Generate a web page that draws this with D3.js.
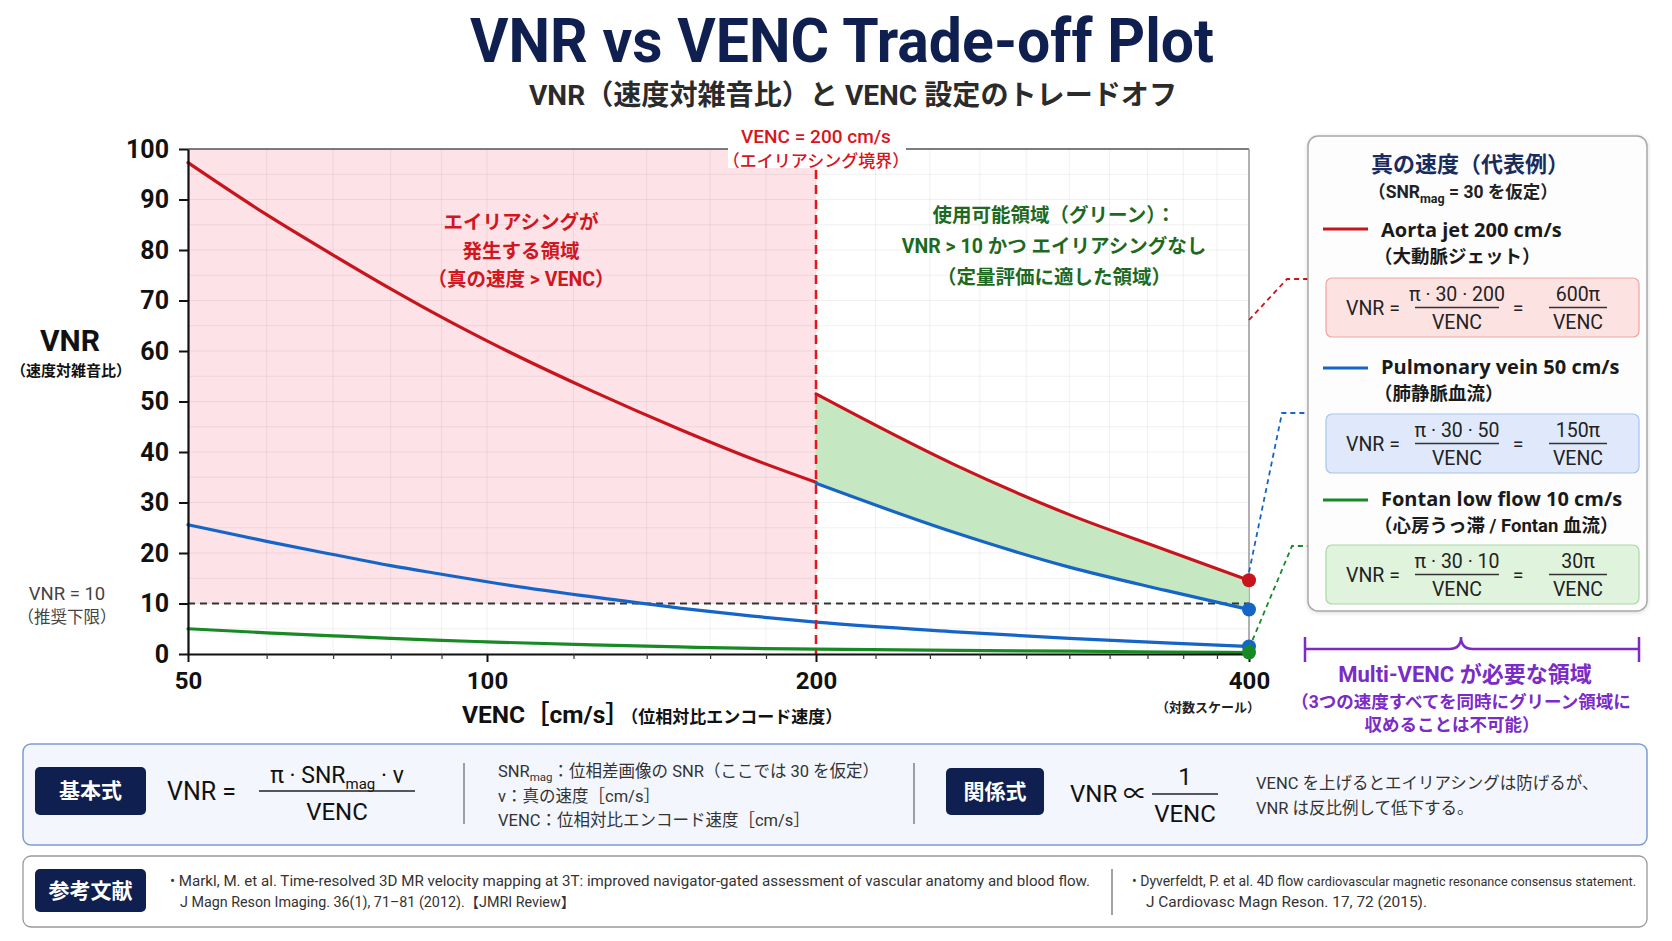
<!DOCTYPE html>
<html>
<head>
<meta charset="utf-8">
<script src="https://cdn.jsdelivr.net/npm/d3@7"></script>
<style>
body { margin: 0; background: #fff; }
svg text { font-family: Roboto, "Noto Sans CJK JP", sans-serif; }
</style>
</head>
<body>
<svg id="chart" width="1672" height="941"></svg>
<script>
// values
var vencAliased = [50, 60, 70, 80, 90, 100, 125, 150, 175, 200];
var vencSafe = [200, 250, 300, 350, 400];
var vencAll = [50, 60, 70, 80, 90, 100, 125, 150, 175, 200, 250, 300, 350, 400];
var aortaAliased = [97.3, 87, 79, 72.3, 66.7, 62, 52, 44.5, 38.6, 34];
var aortaSafe = [51.5, 37.4, 27.6, 20.6, 14.6];
var pulmonaryAll = [25.6, 22.3, 19.7, 17.5, 15.8, 14.3, 11.3, 9.1, 7.5, 6.3, 4.4, 3.1, 2.2, 1.5];
var pulmonarySafe = [33.8, 24, 17.2, 12.6, 8.8];
var fontanAll = [5.0, 4.2, 3.6, 3.1, 2.7, 2.4, 1.8, 1.4, 1.1, 0.95, 0.7, 0.55, 0.4, 0.3];
var xTicks = [50, 100, 200, 400];
var xMinor = [60, 70, 80, 90, 120, 140, 160, 180, 220, 240, 260, 280, 300, 320, 340, 360, 380];
var yTicks = [0, 10, 20, 30, 40, 50, 60, 70, 80, 90, 100];
var yGrid = [5, 15, 25, 35, 45, 55, 65, 75, 85, 95];
var vencLimit = 200;
var vnrLimit = 10;

var RED = "#c8141c", BLUE = "#1565c8", GREEN = "#178a24", NAVY = "#0f1f4f", PURPLE = "#7a2bc8";

var svg = d3.select("#chart");
var x = d3.scaleLog().domain([50, 100, 200, 400]).range([188, 487, 816, 1249]);
var y = d3.scaleLinear().domain([0, 100]).range([654, 149]);
var L = x(50), R = x(400), T = y(100), B = y(0);

function txt(g, px, py, str, size, weight, color, anchor) {
	return g.append("text")
		.attr("x", px).attr("y", py)
		.attr("font-size", size)
		.attr("font-weight", weight || 400)
		.attr("fill", color || "#222")
		.attr("text-anchor", anchor || "start")
		.text(str);
}

function pairs(xs, ys) {
	return xs.map(function(d, i) { return [d, ys[i]]; });
}

// title
txt(svg, 842, 62, "VNR vs VENC Trade-off Plot", 62, 700, NAVY, "middle").attr("textLength", 744).attr("lengthAdjust", "spacingAndGlyphs");
txt(svg, 853, 105, "VNR（速度対雑音比）と VENC 設定のトレードオフ", 28, 700, "#2b2b2b", "middle").attr("textLength", 648).attr("lengthAdjust", "spacingAndGlyphs");

var plot = svg.append("g");

// aliasing zone
plot.append("rect")
	.attr("x", L).attr("y", T)
	.attr("width", x(vencLimit) - L).attr("height", y(vnrLimit) - T)
	.attr("fill", "#fde2e7");

// grid
plot.append("g").selectAll("line").data(yGrid.concat(yTicks))
	.enter().append("line")
	.attr("x1", L).attr("x2", R)
	.attr("y1", function(d) { return y(d); }).attr("y2", function(d) { return y(d); })
	.attr("stroke", "rgba(0,0,0,0.06)").attr("stroke-width", 1);
plot.append("g").selectAll("line").data(xMinor.concat(xTicks))
	.enter().append("line")
	.attr("x1", function(d) { return x(d); }).attr("x2", function(d) { return x(d); })
	.attr("y1", T).attr("y2", B)
	.attr("stroke", "rgba(0,0,0,0.06)").attr("stroke-width", 1);

// frame top / right
plot.append("line").attr("x1", L).attr("x2", R).attr("y1", T).attr("y2", T).attr("stroke", "#555").attr("stroke-width", 1.5);
plot.append("line").attr("x1", R).attr("x2", R).attr("y1", T).attr("y2", B).attr("stroke", "#9a9a9a").attr("stroke-width", 1.5);

// usable zone
var area = d3.area()
	.x(function(d) { return x(d[0]); })
	.y0(function(d) { return y(d[1]); })
	.y1(function(d) { return y(d[2]); })
	.curve(d3.curveMonotoneX);
plot.append("path")
	.datum(vencSafe.map(function(d, i) { return [d, pulmonarySafe[i], aortaSafe[i]]; }))
	.attr("d", area)
	.attr("fill", "#bfe6bb").attr("opacity", 0.9);

// VNR = 10 line
plot.append("line")
	.attr("x1", L).attr("x2", R)
	.attr("y1", y(vnrLimit)).attr("y2", y(vnrLimit))
	.attr("stroke", "#333").attr("stroke-width", 2).attr("stroke-dasharray", "7,5");

// curves
var line = d3.line()
	.x(function(d) { return x(d[0]); })
	.y(function(d) { return y(d[1]); })
	.curve(d3.curveMonotoneX);
var curves = [
	[pairs(vencAliased, aortaAliased), RED],
	[pairs(vencSafe, aortaSafe), RED],
	[pairs(vencAll, pulmonaryAll), BLUE],
	[pairs(vencSafe, pulmonarySafe), BLUE],
	[pairs(vencAll, fontanAll), GREEN]
];
curves.forEach(function(c) {
	plot.append("path").datum(c[0])
		.attr("d", line)
		.attr("fill", "none").attr("stroke", c[1]).attr("stroke-width", 3.2)
		.attr("stroke-linecap", "round");
});

// VENC limit line and label
plot.append("line")
	.attr("x1", x(vencLimit)).attr("x2", x(vencLimit))
	.attr("y1", 170).attr("y2", B)
	.attr("stroke", "#e8141c").attr("stroke-width", 2.5).attr("stroke-dasharray", "9,6");
plot.append("rect").attr("x", 728).attr("y", 118).attr("width", 178).attr("height", 50).attr("fill", "#fff");
txt(plot, x(vencLimit), 143, "VENC = " + vencLimit + " cm/s", 19, 500, "#d8141c", "middle");
txt(plot, x(vencLimit), 167, "（エイリアシング境界）", 17, 500, "#d8141c", "middle");

// axes
var yAxis = plot.append("g").attr("transform", "translate(" + L + ",0)")
	.call(d3.axisLeft(y).tickValues(yTicks).tickSize(9).tickSizeOuter(0).tickPadding(10));
yAxis.select(".domain").attr("stroke", "#111").attr("stroke-width", 2.2);
yAxis.selectAll(".tick line").attr("stroke", "#111").attr("stroke-width", 2);
yAxis.selectAll(".tick text").attr("font-size", 25).attr("font-weight", 700).attr("fill", "#111")
	.style("font-family", "Roboto, sans-serif");

var xAxis = plot.append("g").attr("transform", "translate(0," + B + ")")
	.call(d3.axisBottom(x).tickValues(xTicks).tickFormat(d3.format("d")).tickSize(8).tickSizeOuter(0).tickPadding(10));
xAxis.select(".domain").attr("stroke", "#111").attr("stroke-width", 2.2);
xAxis.selectAll(".tick line").attr("stroke", "#111").attr("stroke-width", 2);
xAxis.selectAll(".tick text").attr("font-size", 24).attr("font-weight", 700).attr("fill", "#111")
	.style("font-family", "Roboto, sans-serif");
var xMinorAxis = plot.append("g").attr("transform", "translate(0," + B + ")")
	.call(d3.axisBottom(x).tickValues(xMinor).tickFormat("").tickSize(5).tickSizeOuter(0));
xMinorAxis.select(".domain").remove();
xMinorAxis.selectAll(".tick line").attr("stroke", "#333").attr("stroke-width", 1.2);

// end dots
var dots = [
	[400, aortaSafe[aortaSafe.length - 1], RED],
	[400, pulmonarySafe[pulmonarySafe.length - 1], BLUE],
	[400, pulmonaryAll[pulmonaryAll.length - 1], BLUE],
	[400, fontanAll[fontanAll.length - 1], GREEN]
];
plot.selectAll("circle.end").data(dots).enter().append("circle")
	.attr("cx", function(d) { return x(d[0]); })
	.attr("cy", function(d) { return y(d[1]); })
	.attr("r", 7)
	.attr("fill", function(d) { return d[2]; });

// axis titles
txt(svg, 70, 351, "VNR", 30, 700, "#111", "middle");
txt(svg, 71, 376, "（速度対雑音比）", 15, 700, "#111", "middle");
txt(svg, 67, 600, "VNR = 10", 18.5, 400, "#444", "middle");
txt(svg, 67, 623, "（推奨下限）", 16.5, 400, "#444", "middle");
var xt = txt(svg, 462, 723, "VENC［cm/s］", 24.5, 700, "#111");
xt.append("tspan").attr("font-size", 17).text("（位相対比エンコード速度）");
txt(svg, 1208, 712, "（対数スケール）", 13, 700, "#222", "middle");

// zone annotations
var redLines = ["エイリアシングが", "発生する領域", "（真の速度 > VENC）"];
redLines.forEach(function(s, i) {
	txt(svg, 521, 229 + i * 28.5, s, 19.5, 700, "#d0161e", "middle");
});
var greenLines = ["使用可能領域（グリーン）：", "VNR > 10 かつ エイリアシングなし", "（定量評価に適した領域）"];
greenLines.forEach(function(s, i) {
	txt(svg, 1054, 222 + i * 31, s, 19.5, 700, "#1d6a1f", "middle");
});

// connectors to legend
var conn = [
	[[R, 320], [1287, 279], [1309, 279], RED],
	[[R, y(aortaSafe[aortaSafe.length - 1]) - 8], [1282, 413], [1309, 413], BLUE],
	[[R, y(fontanAll[fontanAll.length - 1]) - 4], [1292, 546], [1309, 546], GREEN]
];
conn.forEach(function(c) {
	svg.append("path")
		.attr("d", d3.line()([c[0], c[1], c[2]]))
		.attr("fill", "none").attr("stroke", c[3]).attr("stroke-width", 1.8).attr("stroke-dasharray", "5,4");
});

// legend box
var defs = svg.append("defs");
var f = defs.append("filter").attr("id", "sh").attr("x", "-5%").attr("y", "-5%").attr("width", "110%").attr("height", "110%");
f.append("feDropShadow").attr("dx", 0).attr("dy", 1).attr("stdDeviation", 2).attr("flood-color", "#000").attr("flood-opacity", 0.15);

var lg = svg.append("g");
lg.append("rect").attr("x", 1308).attr("y", 136).attr("width", 339).attr("height", 475).attr("rx", 10)
	.attr("fill", "#fdfdfd").attr("stroke", "#a8a8a8").attr("stroke-width", 1.5).attr("filter", "url(#sh)");
txt(lg, 1470, 172, "真の速度（代表例）", 22, 700, "#1a2c5e", "middle");
var sub = txt(lg, 1463, 198, "（SNR", 17.5, 700, "#222", "middle");
sub.append("tspan").attr("font-size", 12.5).attr("dy", 5).text("mag");
sub.append("tspan").attr("dy", -5).text(" = 30 を仮定）");

function frac(g, cx, ly, num, den, size, half) {
	var n = txt(g, cx, ly - 7, "", size, 400, "#222", "middle");
	num(n);
	g.append("line").attr("x1", cx - half).attr("x2", cx + half).attr("y1", ly).attr("y2", ly)
		.attr("stroke", "#333").attr("stroke-width", 1.3);
	txt(g, cx, ly + size + 2, den, size, 400, "#222", "middle");
}

var entries = [
	["Aorta jet 200 cm/s", "（大動脈ジェット）", "π · 30 · 200", "600π", RED, "#fde2e2", "#f0a4a4", 229, 237, 278],
	["Pulmonary vein 50 cm/s", "（肺静脈血流）", "π · 30 · 50", "150π", BLUE, "#dfe9fb", "#a8c3ee", 368, 374, 414],
	["Fontan low flow 10 cm/s", "（心房うっ滞 / Fontan 血流）", "π · 30 · 10", "30π", GREEN, "#e0f3dd", "#a9d8a4", 500, 506, 545]
];
entries.forEach(function(e) {
	lg.append("line").attr("x1", 1323).attr("x2", 1368).attr("y1", e[7]).attr("y2", e[7])
		.attr("stroke", e[4]).attr("stroke-width", 3);
	txt(lg, 1381, e[8], e[0], 20, 700, "#1a1a1a").style("font-family", "'Open Sans', Roboto, sans-serif");
	txt(lg, 1374, e[8] + 26, e[1], 18.5, 700, "#1a1a1a");
	lg.append("rect").attr("x", 1326).attr("y", e[9]).attr("width", 313).attr("height", 59).attr("rx", 6)
		.attr("fill", e[5]).attr("stroke", e[6]).attr("stroke-width", 1.2);
	var cy = e[9] + 29.5;
	txt(lg, 1346, cy + 7, "VNR =", 19.5, 400, "#222");
	frac(lg, 1457, cy, function(t) { t.text(e[2]); }, "VENC", 19.5, 42);
	txt(lg, 1518, cy + 7, "=", 19.5, 400, "#222", "middle");
	frac(lg, 1578, cy, function(t) { t.text(e[3]); }, "VENC", 19.5, 29);
});

// multi-VENC bracket
svg.append("path")
	.attr("d", "M1305,637 L1305,662 M1305,649 L1449,649 Q1461,649 1461,637 Q1461,649 1473,649 L1639,649 M1639,637 L1639,662")
	.attr("fill", "none").attr("stroke", PURPLE).attr("stroke-width", 2.5);
txt(svg, 1465, 682, "Multi-VENC が必要な領域", 22, 700, PURPLE, "middle");
txt(svg, 1461, 708, "（3つの速度すべてを同時にグリーン領域に", 17.5, 700, PURPLE, "middle");
txt(svg, 1452, 731, "収めることは不可能）", 17.5, 700, PURPLE, "middle");

// formula panel
var fp = svg.append("g");
fp.append("rect").attr("x", 23).attr("y", 744).attr("width", 1624).attr("height", 101).attr("rx", 8)
	.attr("fill", "#f3f6fc").attr("stroke", "#7d9dd2").attr("stroke-width", 1.5);
function badge(g, bx, by, w, h, label) {
	g.append("rect").attr("x", bx).attr("y", by).attr("width", w).attr("height", h).attr("rx", 5).attr("fill", NAVY);
	txt(g, bx + w / 2, by + h / 2 + 7, label, 21, 700, "#fff", "middle");
}
badge(fp, 35, 767, 111, 48, "基本式");
txt(fp, 167, 800, "VNR =", 25, 400, "#111");
var num = txt(fp, 337, 783, "π · SNR", 23, 400, "#111", "middle");
num.append("tspan").attr("font-size", 15).attr("dy", 6).text("mag");
num.append("tspan").attr("dy", -6).text(" · v");
fp.append("line").attr("x1", 259).attr("x2", 415).attr("y1", 791).attr("y2", 791).attr("stroke", "#222").attr("stroke-width", 1.5);
txt(fp, 337, 820, "VENC", 24, 400, "#111", "middle");
fp.append("line").attr("x1", 464).attr("x2", 464).attr("y1", 763).attr("y2", 824).attr("stroke", "#666").attr("stroke-width", 1.2);
var d1 = txt(fp, 498, 777, "SNR", 16.5, 400, "#333");
d1.append("tspan").attr("font-size", 11.5).attr("dy", 4).text("mag");
d1.append("tspan").attr("dy", -4).text("：位相差画像の SNR（ここでは 30 を仮定）");
txt(fp, 498, 802, "v：真の速度［cm/s］", 16.5, 400, "#333");
txt(fp, 498, 826, "VENC：位相対比エンコード速度［cm/s］", 16.5, 400, "#333");
fp.append("line").attr("x1", 914).attr("x2", 914).attr("y1", 763).attr("y2", 824).attr("stroke", "#666").attr("stroke-width", 1.2);
badge(fp, 946, 768, 98, 47, "関係式");
txt(fp, 1070, 802, "VNR ∝", 24, 400, "#111");
txt(fp, 1185, 785, "1", 24, 400, "#111", "middle");
fp.append("line").attr("x1", 1152).attr("x2", 1218).attr("y1", 794).attr("y2", 794).attr("stroke", "#222").attr("stroke-width", 1.5);
txt(fp, 1185, 822, "VENC", 24, 400, "#111", "middle");
txt(fp, 1256, 789, "VENC を上げるとエイリアシングは防げるが、", 16.5, 400, "#333");
txt(fp, 1256, 814, "VNR は反比例して低下する。", 16.5, 400, "#333");

// references panel
var rp = svg.append("g");
rp.append("rect").attr("x", 23).attr("y", 856).attr("width", 1624).attr("height", 71).attr("rx", 8)
	.attr("fill", "#fff").attr("stroke", "#999").attr("stroke-width", 1.3);
badge(rp, 35, 869, 111, 43, "参考文献");
txt(rp, 170, 886, "• Markl, M. et al.  Time-resolved 3D MR velocity mapping at 3T: improved navigator-gated assessment of vascular anatomy and blood flow.", 14, 400, "#333")
	.attr("textLength", 920).attr("lengthAdjust", "spacingAndGlyphs");
txt(rp, 180, 907, "J Magn Reson Imaging. 36(1), 71–81 (2012).【JMRI Review】", 14, 400, "#333")
	.attr("textLength", 395).attr("lengthAdjust", "spacingAndGlyphs");
rp.append("line").attr("x1", 1112).attr("x2", 1112).attr("y1", 869).attr("y2", 915).attr("stroke", "#666").attr("stroke-width", 1.2);
var r2 = txt(rp, 1132, 886, "• Dyverfeldt, P. et al.  4D flow ", 14, 400, "#333");
r2.append("tspan").attr("font-size", 12.7).text("cardiovascular magnetic resonance consensus statement.");
txt(rp, 1146, 907, "J Cardiovasc Magn Reson. 17, 72 (2015).", 14, 400, "#333")
	.attr("textLength", 281).attr("lengthAdjust", "spacingAndGlyphs");
</script>
</body>
</html>
